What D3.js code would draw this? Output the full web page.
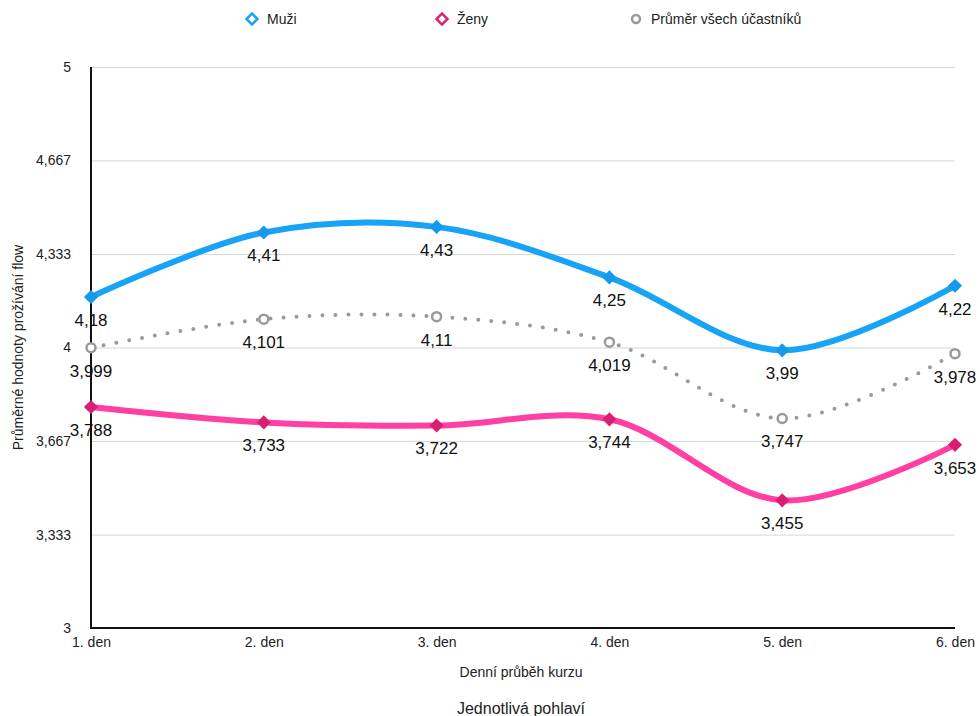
<!DOCTYPE html>
<html lang="cs">
<head>
<meta charset="utf-8">
<script src="https://cdn.jsdelivr.net/npm/d3@7"></script>
<style>
  html, body { margin: 0; padding: 0; background: #fff; }
  svg { display: block; font-family: Helvetica, Arial, "Liberation Sans", sans-serif; }
</style>
</head>
<body>
<svg id="chart" width="980" height="716"></svg>
<script>
// Days of the course
const days = ["1. den", "2. den", "3. den", "4. den", "5. den", "6. den"];
// Average flow per day
const muzi = [4.18, 4.41, 4.43, 4.25, 3.99, 4.22];
const zeny = [3.788, 3.733, 3.722, 3.744, 3.455, 3.653];
const prumer = [3.999, 4.101, 4.11, 4.019, 3.747, 3.978];
// Y axis ticks
const yTicks = [3, 3.333, 3.667, 4, 4.333, 4.667, 5];
const seriesNames = ["Muži", "Ženy", "Průměr všech účastníků"];

const svg = d3.select("#chart");
const plotL = 91, plotR = 955, plotT = 67, plotB = 628;

const x = d3.scalePoint().domain(days).range([plotL, plotR]);
const y = d3.scaleLinear().domain([3, 5]).range([plotB, plotT]);
const fmt = v => String(v).replace(".", ",");
const FONT = "Helvetica, Arial, 'Liberation Sans', sans-serif";

// Horizontal grid
svg.append("g")
  .attr("transform", `translate(${plotL},0)`)
  .call(d3.axisLeft(y).tickValues(yTicks.slice(1)).tickSize(-(plotR - plotL)).tickFormat(""))
  .call(g => g.select(".domain").remove())
  .call(g => g.selectAll("line").attr("stroke", "#d6d6d6").attr("stroke-width", 1));

// Y tick labels
svg.append("g")
  .attr("transform", `translate(${plotL - 20},0)`)
  .call(d3.axisLeft(y).tickValues(yTicks).tickSize(0).tickPadding(0).tickFormat(fmt))
  .call(g => g.select(".domain").remove())
  .call(g => g.selectAll("text").attr("font-size", 14).attr("fill", "#222").attr("font-family", FONT));

// X tick labels
svg.append("g")
  .attr("transform", `translate(0,${plotB + 9})`)
  .call(d3.axisBottom(x).tickSize(0).tickPadding(0))
  .call(g => g.select(".domain").remove())
  .call(g => g.selectAll("text").attr("font-size", 14).attr("fill", "#222").attr("font-family", FONT));

// Axis lines
svg.append("line").attr("x1", plotL).attr("x2", plotL).attr("y1", plotT).attr("y2", plotB)
  .attr("stroke", "#111").attr("stroke-width", 2);
svg.append("line").attr("x1", plotL - 1).attr("x2", plotR).attr("y1", plotB).attr("y2", plotB)
  .attr("stroke", "#111").attr("stroke-width", 2);

const line = d3.line()
  .x((d, i) => x(days[i]))
  .y(d => y(d))
  .curve(d3.curveCatmullRom.alpha(0.5));

// Average (dotted)
svg.append("path").datum(prumer).attr("d", line)
  .attr("fill", "none").attr("stroke", "#9a9a9a").attr("stroke-width", 4)
  .attr("stroke-linecap", "round").attr("stroke-dasharray", "0 13");

// Men
svg.append("path").datum(muzi).attr("d", line)
  .attr("fill", "none").attr("stroke", "#18a4f6").attr("stroke-width", 6)
  .attr("stroke-linejoin", "round");

// Women
svg.append("path").datum(zeny).attr("d", line)
  .attr("fill", "none").attr("stroke", "#ff3fa2").attr("stroke-width", 6)
  .attr("stroke-linejoin", "round");

const diamond = d3.symbol().type(d3.symbolSquare).size(100);

function diamonds(data, color) {
  svg.append("g").selectAll("path").data(data).join("path")
    .attr("d", diamond)
    .attr("transform", (d, i) => `translate(${x(days[i])},${y(d)}) rotate(45)`)
    .attr("fill", color);
}
diamonds(muzi, "#1699ea");
diamonds(zeny, "#d81f74");

svg.append("g").selectAll("circle").data(prumer).join("circle")
  .attr("cx", (d, i) => x(days[i])).attr("cy", d => y(d)).attr("r", 4.5)
  .attr("fill", "#fff").attr("stroke", "#9a9a9a").attr("stroke-width", 2.5);

// Value labels
function labels(data) {
  svg.append("g").selectAll("text").data(data).join("text")
    .attr("x", (d, i) => x(days[i])).attr("y", d => y(d) + 29)
    .attr("text-anchor", "middle").attr("font-size", 17).attr("fill", "#111")
    .text(fmt);
}
labels(muzi);
labels(prumer);
labels(zeny);

// Legend
const legendX = [252, 442, 636];
const lg = svg.append("g");
lg.append("path").attr("d", d3.symbol().type(d3.symbolSquare).size(60))
  .attr("transform", `translate(${legendX[0]},19) rotate(45)`)
  .attr("fill", "#fff").attr("stroke", "#18a4f6").attr("stroke-width", 2.5);
lg.append("path").attr("d", d3.symbol().type(d3.symbolSquare).size(60))
  .attr("transform", `translate(${legendX[1]},19) rotate(45)`)
  .attr("fill", "#fff").attr("stroke", "#d81f74").attr("stroke-width", 2.5);
lg.append("circle").attr("cx", legendX[2]).attr("cy", 19).attr("r", 4)
  .attr("fill", "#fff").attr("stroke", "#9a9a9a").attr("stroke-width", 2.5);
lg.selectAll("text").data(seriesNames).join("text")
  .attr("x", (d, i) => legendX[i] + 15).attr("y", 24)
  .attr("font-size", 14).attr("fill", "#222").text(d => d);

// Axis titles
svg.append("text")
  .attr("transform", `translate(23,${(plotT + plotB) / 2}) rotate(-90)`)
  .attr("text-anchor", "middle").attr("font-size", 14).attr("fill", "#222")
  .text("Průměrné hodnoty prožívání flow");
svg.append("text").attr("x", (plotL + plotR) / 2 - 2).attr("y", 677)
  .attr("text-anchor", "middle").attr("font-size", 14).attr("fill", "#222")
  .text("Denní průběh kurzu");
svg.append("text").attr("x", (plotL + plotR) / 2 - 2).attr("y", 714)
  .attr("text-anchor", "middle").attr("font-size", 16).attr("fill", "#222")
  .text("Jednotlivá pohlaví");
</script>
</body>
</html>
